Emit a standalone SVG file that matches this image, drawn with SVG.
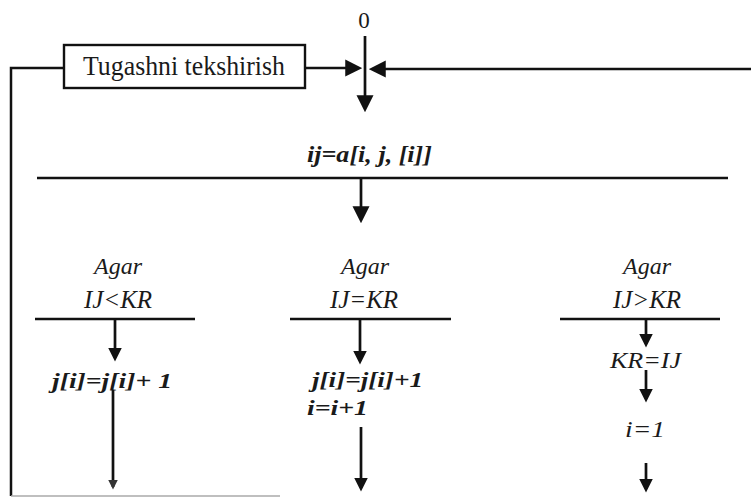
<svg xmlns="http://www.w3.org/2000/svg" width="751" height="498" viewBox="0 0 751 498">
<style>
.ln{stroke:#111;stroke-width:2.5;fill:none}
.ar{stroke:#111;stroke-width:2.7;fill:none}
text{fill:#1a1a1a}
.it{font-style:italic}
.bi{font-style:italic;font-weight:bold}
</style>
<defs>
<marker id="ah" viewBox="0 0 16 16" refX="12" refY="8" markerWidth="17" markerHeight="18" orient="auto" markerUnits="userSpaceOnUse">
<path d="M0,0 L16,8 L0,16 z" fill="#111"/>
</marker>
<marker id="ahs" viewBox="0 0 16 16" refX="12" refY="8" markerWidth="14" markerHeight="15" orient="auto" markerUnits="userSpaceOnUse">
<path d="M0,0 L16,8 L0,16 z" fill="#111"/>
</marker>
<marker id="aht" viewBox="0 0 16 16" refX="12" refY="8" markerWidth="10" markerHeight="11" orient="auto" markerUnits="userSpaceOnUse">
<path d="M0,0 L16,8 L0,16 z" fill="#333"/>
</marker>
</defs>
<rect width="751" height="498" fill="#fff"/>
<g id="connectors">
<polyline class="ln" points="64,68 11,68 11,496"/>
<line x1="11" y1="496" x2="280" y2="496" stroke="#aaa" stroke-width="1.6"/>
<line class="ar" x1="305" y1="68" x2="358" y2="68" marker-end="url(#ah)"/>
<line class="ar" x1="751" y1="69" x2="373" y2="69" marker-end="url(#ah)"/>
<line class="ar" x1="365" y1="36" x2="365" y2="108" marker-end="url(#ah)"/>
<line class="ln" x1="37" y1="178" x2="728" y2="178"/>
<line class="ar" x1="361" y1="178" x2="361" y2="219" marker-end="url(#ah)"/>
<line class="ln" x1="35" y1="319" x2="195" y2="319"/>
<line class="ln" x1="290" y1="319" x2="451" y2="319"/>
<line class="ln" x1="560" y1="319" x2="720" y2="319"/>
<line class="ar" x1="115" y1="319" x2="115" y2="358" marker-end="url(#ahs)"/>
<line class="ar" x1="360" y1="319" x2="360" y2="361" marker-end="url(#ahs)"/>
<line class="ar" x1="646" y1="319" x2="646" y2="344" marker-end="url(#ahs)"/>
<line class="ar" x1="646" y1="370" x2="646" y2="399" marker-end="url(#ahs)"/>
<line class="ar" x1="646" y1="463" x2="646" y2="489" marker-end="url(#ahs)"/>
<line class="ar" x1="361" y1="427" x2="361" y2="488" marker-end="url(#ahs)"/>
<line class="ar" x1="113" y1="390" x2="113" y2="487" marker-end="url(#aht)"/>
</g>
<g id="start" font-family="Liberation Serif, Times New Roman, serif">
<text x="364" y="28" font-size="23" text-anchor="middle">0</text>
</g>
<g id="check" font-family="Liberation Serif, Times New Roman, serif">
<rect x="64" y="45" width="241" height="43" fill="#fff" stroke="#111" stroke-width="2.4"/>
<text x="83" y="75" font-size="27" textLength="202" lengthAdjust="spacingAndGlyphs">Tugashni tekshirish</text>
</g>
<g id="assign" font-family="Liberation Serif, Times New Roman, serif">
<text class="bi" x="307" y="162" font-size="23" textLength="125" lengthAdjust="spacingAndGlyphs">ij=a[i, j, [i]]</text>
</g>
<g id="branch-lt" font-family="Liberation Serif, Times New Roman, serif">
<text class="it" x="118" y="274" font-size="24" text-anchor="middle">Agar</text>
<text class="it" x="118" y="308" font-size="25" text-anchor="middle">IJ&lt;KR</text>
<text class="bi" x="52" y="388" font-size="21" textLength="120" lengthAdjust="spacingAndGlyphs">j[i]=j[i]+ 1</text>
</g>
<g id="branch-eq" font-family="Liberation Serif, Times New Roman, serif">
<text class="it" x="365" y="274" font-size="24" text-anchor="middle">Agar</text>
<text class="it" x="364" y="308" font-size="25" text-anchor="middle">IJ=KR</text>
<text class="bi" x="312" y="387" font-size="21" textLength="111" lengthAdjust="spacingAndGlyphs">j[i]=j[i]+1</text>
<text class="bi" x="307" y="415" font-size="21" textLength="61" lengthAdjust="spacingAndGlyphs">i=i+1</text>
</g>
<g id="branch-gt" font-family="Liberation Serif, Times New Roman, serif">
<text class="it" x="647" y="274" font-size="24" text-anchor="middle">Agar</text>
<text class="it" x="647" y="308" font-size="25" text-anchor="middle">IJ&gt;KR</text>
<text class="it" x="610" y="368" font-size="24" textLength="71" lengthAdjust="spacingAndGlyphs">KR=IJ</text>
<text class="it" x="625" y="437" font-size="23" textLength="40" lengthAdjust="spacingAndGlyphs">i=1</text>
</g>
</svg>
